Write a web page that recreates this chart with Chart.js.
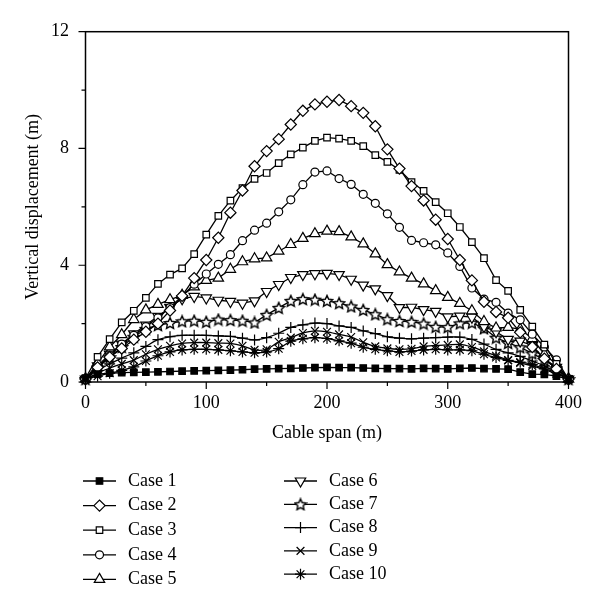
<!DOCTYPE html>
<html>
<head>
<meta charset="utf-8">
<script src="https://cdn.jsdelivr.net/npm/chart.js@4.4.1/dist/chart.umd.min.js"></script>
<style>
  body { margin: 0; background: #fff; }
  #wrap { width: 600px; height: 613px; }
</style>
</head>
<body>
<div id="wrap"><canvas id="c" width="600" height="613"></canvas></div>
<script>
// cable span positions (m)
const span = [0, 10, 20, 30, 40, 50, 60, 70, 80, 90, 100, 110, 120, 130, 140, 150, 160, 170, 180, 190, 200,
  210, 220, 230, 240, 250, 260, 270, 280, 290, 300, 310, 320, 330, 340, 350, 360, 370, 380, 390, 400];

// vertical displacement (m)
const case1 = [0.12, 0.27, 0.3, 0.32, 0.33, 0.34, 0.35, 0.36, 0.37, 0.38, 0.39, 0.4, 0.41, 0.42, 0.44, 0.45, 0.46, 0.47, 0.48, 0.49, 0.5,
  0.49, 0.49, 0.48, 0.47, 0.46, 0.46, 0.45, 0.47, 0.46, 0.45, 0.47, 0.48, 0.46, 0.45, 0.44, 0.34, 0.27, 0.26, 0.2, 0.1];
const case2 = [0.1, 0.5, 0.85, 1.15, 1.45, 1.72, 2.0, 2.45, 2.95, 3.56, 4.18, 4.94, 5.8, 6.56, 7.39, 7.91, 8.32, 8.82, 9.29, 9.51, 9.6,
  9.66, 9.45, 9.22, 8.76, 7.97, 7.31, 6.71, 6.22, 5.56, 4.9, 4.18, 3.48, 2.75, 2.4, 2.2, 1.7, 1.2, 0.8, 0.45, 0.1];
const case3 = [0.13, 0.86, 1.47, 2.04, 2.44, 2.88, 3.36, 3.68, 3.89, 4.38, 5.05, 5.69, 6.21, 6.64, 6.96, 7.16, 7.5, 7.8, 8.03, 8.26, 8.37,
  8.34, 8.26, 8.08, 7.77, 7.54, 7.27, 6.85, 6.55, 6.16, 5.78, 5.31, 4.79, 4.24, 3.49, 3.12, 2.47, 1.9, 1.28, 0.62, 0.1];
const case4 = [0.1, 0.5, 0.9, 1.3, 1.6, 1.9, 2.2, 2.55, 2.95, 3.35, 3.7, 4.03, 4.36, 4.84, 5.2, 5.44, 5.83, 6.24, 6.76, 7.19, 7.23,
  6.97, 6.77, 6.43, 6.12, 5.76, 5.3, 4.85, 4.77, 4.7, 4.42, 3.96, 3.22, 2.84, 2.73, 2.36, 2.13, 1.64, 1.2, 0.76, 0.1];
const case5 = [0.1, 0.65, 1.2, 1.62, 2.14, 2.47, 2.66, 2.82, 2.97, 3.26, 3.48, 3.56, 3.86, 4.12, 4.22, 4.25, 4.48, 4.71, 4.92, 5.08, 5.17,
  5.15, 4.97, 4.73, 4.39, 4.02, 3.77, 3.56, 3.36, 3.13, 2.9, 2.69, 2.44, 2.07, 1.85, 1.87, 1.81, 1.49, 0.95, 0.61, 0.1];
const case6 = [0.1, 0.55, 0.95, 1.3, 1.65, 1.95, 2.25, 2.55, 2.85, 2.93, 2.88, 2.8, 2.76, 2.7, 2.78, 3.1, 3.34, 3.58, 3.68, 3.71, 3.72,
  3.68, 3.52, 3.32, 3.19, 2.96, 2.55, 2.56, 2.48, 2.42, 2.23, 2.26, 2.22, 1.9, 1.72, 1.46, 1.4, 1.25, 0.8, 0.5, 0.1];
const case7 = [0.1, 0.5, 0.85, 1.2, 1.55, 1.82, 1.95, 2.02, 2.08, 2.1, 2.06, 2.14, 2.12, 2.1, 2.04, 2.3, 2.54, 2.78, 2.84, 2.82, 2.78,
  2.7, 2.59, 2.47, 2.32, 2.15, 2.09, 2.06, 2.0, 1.89, 1.88, 2.01, 2.03, 1.84, 1.52, 1.34, 1.19, 0.98, 0.76, 0.47, 0.1];
const case8 = [0.1, 0.4, 0.62, 0.82, 1.0, 1.22, 1.45, 1.55, 1.6, 1.6, 1.6, 1.58, 1.56, 1.5, 1.44, 1.52, 1.67, 1.87, 1.96, 2.02, 2.0,
  1.92, 1.87, 1.75, 1.66, 1.55, 1.5, 1.48, 1.5, 1.52, 1.54, 1.54, 1.46, 1.3, 1.12, 1.0, 0.88, 0.72, 0.55, 0.33, 0.1];
const case9 = [0.1, 0.3, 0.48, 0.62, 0.75, 0.95, 1.12, 1.24, 1.32, 1.35, 1.35, 1.33, 1.32, 1.24, 1.1, 1.12, 1.38, 1.52, 1.68, 1.75, 1.72,
  1.63, 1.54, 1.36, 1.22, 1.15, 1.12, 1.14, 1.22, 1.25, 1.27, 1.29, 1.2, 1.05, 0.9, 0.75, 0.65, 0.55, 0.42, 0.28, 0.1];
const case10 = [0.1, 0.2, 0.3, 0.4, 0.52, 0.72, 0.9, 1.03, 1.1, 1.12, 1.12, 1.1, 1.07, 1.03, 1.0, 1.03, 1.14, 1.4, 1.48, 1.52, 1.49,
  1.41, 1.33, 1.19, 1.12, 1.07, 1.03, 1.06, 1.1, 1.12, 1.1, 1.1, 1.07, 0.95, 0.84, 0.74, 0.68, 0.6, 0.45, 0.33, 0.1];

const caseNames = ["Case 1", "Case 2", "Case 3", "Case 4", "Case 5", "Case 6", "Case 7", "Case 8", "Case 9", "Case 10"];
const caseValues = [case1, case2, case3, case4, case5, case6, case7, case8, case9, case10];

const xTicks = [0, 100, 200, 300, 400];
const yTicks = [0, 4, 8, 12];

const FONT = "'Liberation Serif', 'DejaVu Serif', 'Times New Roman', serif";

// open five-point star marker (Case 7)
function makeStar(size) {
  const cv = document.createElement("canvas");
  cv.width = size;
  cv.height = size;
  const c = cv.getContext("2d");
  const cx = size / 2, cy = size / 2 + 0.6;
  const ro = size / 2 - 1, ri = ro * 0.47;
  c.beginPath();
  for (let k = 0; k < 10; k++) {
    const r = k % 2 === 0 ? ro : ri;
    const a = -Math.PI / 2 + (k * Math.PI) / 5;
    const px = cx + r * Math.cos(a), py = cy + r * Math.sin(a);
    if (k === 0) c.moveTo(px, py);
    else c.lineTo(px, py);
  }
  c.closePath();
  c.fillStyle = "#fff";
  c.fill();
  c.strokeStyle = "#000";
  c.lineWidth = 1.4;
  c.stroke();
  return cv;
}
const starImg = makeStar(14);

// marker for each case
const markers = [
  { pointStyle: "rect", radius: 4.6, fill: "#000", rotation: 0 },
  { pointStyle: "rectRot", radius: 5.6, fill: "#fff", rotation: 0 },
  { pointStyle: "rect", radius: 4.6, fill: "#fff", rotation: 0 },
  { pointStyle: "circle", radius: 4, fill: "#fff", rotation: 0 },
  { pointStyle: "triangle", radius: 6, fill: "#fff", rotation: 0 },
  { pointStyle: "triangle", radius: 6, fill: "#fff", rotation: 180 },
  { pointStyle: starImg, radius: 7, fill: "#fff", rotation: 0 },
  { pointStyle: "cross", radius: 5.5, fill: "#fff", rotation: 0 },
  { pointStyle: "crossRot", radius: 5.5, fill: "#fff", rotation: 0 },
  { pointStyle: "star", radius: 5.5, fill: "#fff", rotation: 0 },
];

const datasets = caseValues.map((vals, i) => ({
  label: caseNames[i],
  data: span.map((x, j) => ({ x: x, y: vals[j] })),
  borderColor: "#000",
  borderWidth: 1.3,
  backgroundColor: markers[i].fill,
  pointStyle: markers[i].pointStyle,
  pointRadius: markers[i].radius,
  pointRotation: markers[i].rotation,
  pointBorderColor: "#000",
  pointBackgroundColor: markers[i].fill,
  pointBorderWidth: 1.2,
  tension: i >= 7 ? 0.3 : 0,
  clip: false,
}));

// frame, tick marks and the two-column legend
const framePlugin = {
  id: "framePlugin",
  afterDraw(chart) {
    const { ctx, chartArea: a, scales } = chart;
    const x = scales.x, y = scales.y;
    ctx.save();
    ctx.strokeStyle = "#000";
    ctx.lineWidth = 1.5;
    ctx.strokeRect(a.left, a.top, a.right - a.left, a.bottom - a.top);

    ctx.lineWidth = 1.2;
    ctx.beginPath();
    x.ticks.forEach((t) => {
      const px = x.getPixelForValue(t.value);
      const len = xTicks.includes(t.value) ? 7 : 4;
      ctx.moveTo(px, a.bottom);
      ctx.lineTo(px, a.bottom + len);
    });
    y.ticks.forEach((t) => {
      const py = y.getPixelForValue(t.value);
      const len = yTicks.includes(t.value) ? 7 : 4;
      ctx.moveTo(a.left, py);
      ctx.lineTo(a.left - len, py);
    });
    ctx.stroke();

    // legend
    const cols = [
      { x0: 83, x1: 116, tx: 128, y0: 481, dy: 24.6 },
      { x0: 284, x1: 317, tx: 329, y0: 481, dy: 23.3 },
    ];
    ctx.font = "18px " + FONT;
    ctx.textBaseline = "middle";
    ctx.textAlign = "left";
    chart.data.datasets.forEach((ds, i) => {
      const col = cols[i < 5 ? 0 : 1];
      const ly = col.y0 + (i % 5) * col.dy;
      ctx.strokeStyle = "#000";
      ctx.lineWidth = 1.3;
      ctx.beginPath();
      ctx.moveTo(col.x0, ly);
      ctx.lineTo(col.x1, ly);
      ctx.stroke();
      ctx.fillStyle = markers[i].fill;
      ctx.lineWidth = 1.2;
      Chart.helpers.drawPoint(ctx, {
        pointStyle: markers[i].pointStyle,
        rotation: markers[i].rotation,
        radius: markers[i].radius,
        borderWidth: 1.2,
      }, (col.x0 + col.x1) / 2, ly);
      ctx.fillStyle = "#000";
      ctx.fillText(ds.label, col.tx, ly);
    });
    ctx.restore();
  },
};

Chart.defaults.font.family = FONT;
Chart.defaults.font.size = 18;
Chart.defaults.color = "#000";

new Chart(document.getElementById("c"), {
  type: "line",
  data: { datasets: datasets },
  options: {
    responsive: false,
    animation: false,
    layout: { padding: { left: 0, right: 31.5, top: 31.7, bottom: 169 } },
    plugins: { legend: { display: false }, tooltip: { enabled: false } },
    scales: {
      x: {
        type: "linear",
        min: 0,
        max: 400,
        grid: { display: false, drawTicks: false },
        border: { display: false },
        ticks: {
          stepSize: 50,
          padding: 10,
          maxRotation: 0,
          autoSkip: false,
          callback: (v) => (xTicks.includes(v) ? v : ""),
        },
        title: { display: true, text: "Cable span (m)", padding: { top: 0, bottom: 0.2 } },
        afterFit: (s) => { s.height = 62; },
      },
      y: {
        min: 0,
        max: 12,
        grid: { display: false, drawTicks: false },
        border: { display: false },
        ticks: {
          stepSize: 2,
          padding: 16.5,
          autoSkip: false,
          callback: (v) => (yTicks.includes(v) ? v : ""),
        },
        title: { display: true, text: "Vertical displacement (m)", padding: { top: 22, bottom: 0 } },
        afterFit: (s) => { s.width = 85.5; },
      },
    },
  },
  plugins: [framePlugin],
});
</script>
</body>
</html>
